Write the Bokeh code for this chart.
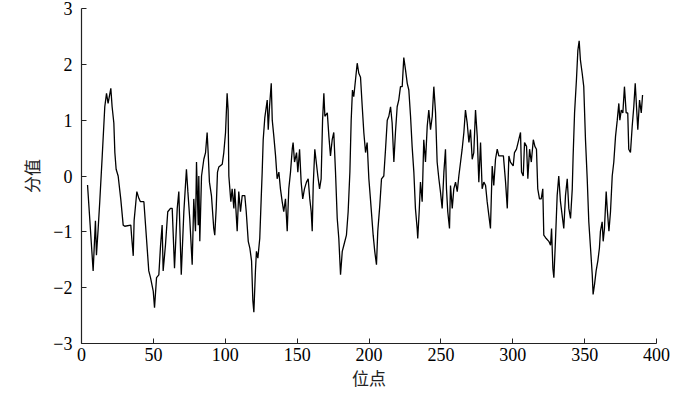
from bokeh.plotting import figure
from bokeh.embed import file_html
from bokeh.resources import INLINE
from bokeh.models import FixedTicker, ColumnDataSource

positions = [4.2, 8.1, 9.7, 10.4, 11.6, 12.7, 14.4, 16.2, 17.4, 18.5, 20.4, 21.3, 22.5, 23.2, 24.1, 25.5,
             27.3, 29.0, 30.1, 34.3, 34.8, 36.0, 36.6, 37.8, 38.5, 39.9, 41.0, 43.4, 46.8, 48.0, 49.9, 50.8,
             52.2, 53.8, 55.0, 56.1, 56.8, 58.4, 60.0, 61.9, 63.1, 64.7, 66.6, 67.7, 69.4, 71.2, 73.0, 74.0,
             75.3, 77.0, 78.1, 79.3, 80.0, 81.2, 81.6, 82.3, 83.5, 85.1, 86.3, 87.4, 88.1, 89.0, 90.4, 92.0,
             92.7, 93.7, 94.6, 95.5, 97.9, 99.0, 100.2, 101.3, 102.0, 102.5, 103.9, 104.8, 106.0, 106.6, 108.3,
             109.4, 110.6, 111.8, 113.6, 114.6, 116.0, 117.1, 118.3, 119.2, 119.9, 121.0, 121.7, 122.7, 124.0,
             125.0, 125.7, 126.4, 127.5, 129.2, 129.9, 130.8, 132.0, 132.7, 133.8, 135.0, 136.1, 137.3, 138.4,
             139.6, 140.7, 141.9, 143.1, 144.2, 145.4, 146.6, 147.2, 148.2, 149.6, 150.5, 151.7, 152.8, 153.9,
             155.1, 156.5, 157.7, 158.8, 159.8, 160.5, 161.2, 162.3, 163.3, 164.4, 165.6, 166.7, 167.7, 168.6,
             169.3, 171.0, 172.1, 173.2, 174.4, 175.5, 176.7, 177.9, 179.0, 180.2, 181.4, 182.5, 184.3, 185.5,
             186.7, 187.6, 188.5, 189.4, 190.6, 191.8, 192.9, 194.1, 195.3, 196.4, 197.6, 198.7, 199.9, 201.0,
             202.9, 204.0, 205.2, 206.1, 207.5, 208.7, 210.3, 211.5, 212.7, 213.8, 215.0, 216.1, 217.3, 218.4,
             219.6, 220.7, 221.9, 223.1, 224.2, 225.4, 226.6, 227.7, 228.9, 230.0, 231.2, 232.3, 233.5, 233.9,
             234.9, 235.8, 237.0, 238.1, 239.3, 240.5, 241.6, 242.8, 244.0, 245.1, 246.3, 247.4, 248.6, 249.7,
             250.9, 252.1, 253.2, 253.9, 254.8, 256.0, 256.7, 257.9, 259.0, 260.2, 261.4, 262.5, 263.7, 264.8,
             266.0, 267.1, 268.3, 269.5, 270.6, 271.8, 272.9, 274.1, 275.3, 276.4, 277.6, 278.7, 279.9, 281.1,
             282.2, 283.4, 284.5, 285.7, 286.8, 288.0, 289.2, 290.3, 291.5, 293.5, 295.0, 296.2, 297.3, 298.4,
             300.3, 301.2, 302.6, 304.2, 305.4, 306.1, 307.3, 308.2, 309.6, 310.5, 311.7, 312.9, 314.3, 315.4,
             316.5, 317.4, 318.6, 319.8, 320.9, 321.6, 323.3, 325.1, 326.3, 327.0, 327.9, 328.6, 329.7, 330.9,
             332.0, 333.2, 334.4, 335.5, 336.7, 337.9, 339.0, 340.2, 341.4, 342.0, 343.0, 344.3, 345.3, 346.2,
             347.1, 348.3, 349.4, 350.6, 351.8, 352.9, 354.1, 355.3, 355.9, 356.9, 358.0, 359.2, 360.3, 361.0,
             362.2, 362.9, 363.8, 365.0, 365.7, 366.9, 368.0, 369.2, 370.3, 371.5, 372.7, 373.8, 374.5, 375.5,
             376.6, 377.7, 378.9, 380.0, 380.7, 381.9, 383.1, 384.2, 385.2, 386.1, 387.0, 388.2, 389.4, 390.3]

scores = [-0.16, -1.70, -0.80, -1.42, -0.94, -0.46, 0.35, 1.24, 1.48, 1.30, 1.57, 1.24, 0.95, 0.42, 0.12, 0.00,
          -0.41, -0.88, -0.90, -0.88, -1.06, -1.43, -0.80, -0.47, -0.28, -0.40, -0.46, -0.46, -1.70, -1.82, -2.06, -2.36,
          -1.82, -1.77, -1.24, -0.88, -1.70, -1.24, -0.64, -0.58, -0.58, -1.65, -0.58, -0.28, -1.77, -0.64, 0.12, -0.28,
          -0.76, -1.59, -0.41, -0.99, 0.25, -0.88, 0.00, -1.17, 0.00, 0.30, 0.42, 0.78, 0.42, -0.11, -0.35, -0.94,
          -1.06, -0.58, 0.07, 0.16, 0.21, 0.42, 0.78, 1.48, 1.18, 0.00, -0.46, -0.23, -0.58, -0.23, -0.99,
          -0.28, -0.64, -0.35, -0.35, -0.64, -1.17, -1.29, -1.52, -2.23, -2.44, -1.70, -1.35, -1.47, -1.12,
          -0.41, 0.07, 0.65, 1.04, 1.36, 0.83, 1.24, 1.66, 1.00, 0.71, 0.36, -0.05, 0.07, -0.23,
          -0.46, -0.64, -0.41, -0.99, -0.23, 0.07, 0.48, 0.60, 0.25, 0.42, 0.07, 0.48, -0.11, -0.41,
          -0.23, -0.11, -0.05, -0.41, -0.64, -0.99, -0.17, 0.48, 0.25, 0.00, -0.23, -0.05, 1.00, 1.48,
          1.07, 1.13, 0.71, 0.36, 0.65, 0.78, 0.07, -0.76, -1.12, -1.77, -1.35, -1.24, -1.06, -0.64,
          0.07, 1.00, 1.54, 1.42, 1.72, 2.02, 1.84, 1.77, 1.24, 0.78, 0.42, 0.60, -0.05, -0.41,
          -1.06, -1.35, -1.59, -0.99, -0.53, -0.05, 0.00, 0.48, 1.00, 1.07, 1.24, 0.95, 0.25, 0.78,
          1.24, 1.36, 1.60, 1.60, 2.12, 1.90, 1.66, 1.54, 1.07, 0.53, 0.07, -0.58, -0.94, -1.12,
          -0.64, -0.11, -0.46, 0.65, 0.25, 0.89, 1.18, 0.83, 1.07, 1.60, 1.13, 0.25, -0.05, -0.28,
          -0.58, 0.07, 0.48, -0.23, -0.64, -0.94, -0.17, -0.58, -0.23, -0.11, -0.28, 0.00, 0.25, 0.48,
          0.78, 1.18, 0.95, 0.60, 0.83, 0.30, 0.42, 1.18, 0.71, -0.11, 0.60, -0.23, -0.11, -0.17,
          -0.46, -0.71, -0.94, 0.18, -0.17, 0.30, 0.48, 0.36, 0.36, 0.36, -0.11, -0.58, 0.36, 0.25,
          0.18, 0.42, 0.48, 0.65, 0.78, 0.07, 0.00, 0.60, 0.53, -0.05, 0.48, 0.25, 0.65, 0.53,
          0.48, -0.23, -0.41, -0.41, -0.23, -1.06, -1.12, -1.17, -1.24, -0.94, -1.65, -1.82, -1.17, -0.35,
          0.00, -0.46, -0.71, -0.94, -0.35, -0.05, -0.58, -0.76, -0.23, 0.36, 1.13, 1.72, 2.25, 2.42,
          2.07, 1.84, 1.60, 0.65, -0.05, -0.82, -1.29, -1.77, -2.12, -1.94, -1.70, -1.52, -1.29, -0.99,
          -0.82, -1.17, -0.94, -0.28, -0.58, -0.99, -0.64, 0.00, 0.25, 0.71, 1.00, 1.30, 1.00, 1.18,
          1.13, 1.60, 1.13, 1.13, 0.48, 0.42, 0.89, 1.24, 1.66, 1.24, 0.83, 1.36, 1.13, 1.45]

x_ticks = [0, 50, 100, 150, 200, 250, 300, 350, 400]
y_ticks = [-3, -2, -1, 0, 1, 2, 3]
y_tick_labels = {-3: "\u22123", -2: "\u22122", -1: "\u22121", 0: "0", 1: "1", 2: "2", 3: "3"}

source = ColumnDataSource(data=dict(x=positions, y=scores))

p = figure(width=684, height=392, output_backend="svg", toolbar_location=None,
           x_range=(0, 400), y_range=(-3, 3),
           min_border_left=81, min_border_right=28, min_border_top=8, min_border_bottom=40)

p.line("x", "y", source=source, line_color="black", line_width=1.3)

p.grid.visible = False
p.outline_line_color = None
p.background_fill_color = "white"
p.border_fill_color = "white"

serif = "Liberation Serif"
for ax in (p.xaxis[0], p.yaxis[0]):
    ax.axis_line_color = "#222222"
    ax.axis_line_width = 1.2
    ax.major_tick_in = 5
    ax.major_tick_out = 0
    ax.major_tick_line_color = "#222222"
    ax.minor_tick_line_color = None
    ax.major_label_text_font = serif
    ax.major_label_text_font_size = "18px"
    ax.major_label_text_color = "black"
    ax.axis_label_text_font = "Noto Sans CJK SC"
    ax.axis_label_text_font_style = "normal"
    ax.axis_label_text_font_size = "17px"
    ax.axis_label_text_color = "#222222"

p.xaxis.ticker = FixedTicker(ticks=x_ticks)
p.yaxis.ticker = FixedTicker(ticks=y_ticks)
p.yaxis.major_label_overrides = y_tick_labels
p.xaxis.major_label_standoff = 4
p.yaxis.major_label_standoff = 9
p.xaxis.axis_label = "位点"
p.yaxis.axis_label = "分值"
p.xaxis.axis_label_standoff = 1
p.yaxis.axis_label_standoff = 6

open("out.html", "w").write(file_html(p, INLINE))
